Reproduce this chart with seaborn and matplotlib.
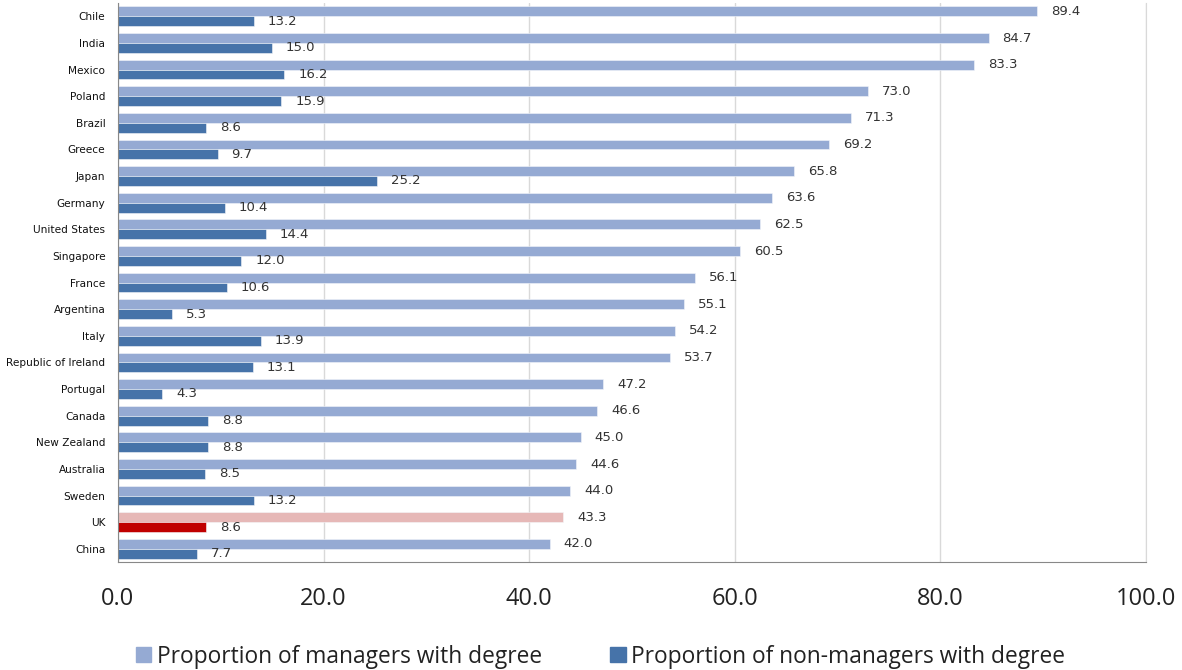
import matplotlib
matplotlib.use("Agg")
import matplotlib.pyplot as plt
import matplotlib.patches as mpatches
import seaborn as sns
import pandas as pd

countries = ["Chile", "India", "Mexico", "Poland", "Brazil", "Greece", "Japan",
             "Germany", "United States", "Singapore", "France", "Argentina",
             "Italy", "Republic of Ireland", "Portugal", "Canada", "New Zealand",
             "Australia", "Sweden", "UK", "China"]
managers = [89.4, 84.7, 83.3, 73.0, 71.3, 69.2, 65.8, 63.6, 62.5, 60.5, 56.1,
            55.1, 54.2, 53.7, 47.2, 46.6, 45.0, 44.6, 44.0, 43.3, 42.0]
non_managers = [13.2, 15.0, 16.2, 15.9, 8.6, 9.7, 25.2, 10.4, 14.4, 12.0, 10.6,
                5.3, 13.9, 13.1, 4.3, 8.8, 8.8, 8.5, 13.2, 8.6, 7.7]
series_names = ["Proportion of managers with degree",
                "Proportion of non-managers with degree"]
highlight = "UK"

colors = ["#95AAD3", "#4673A9"]
highlight_colors = ["#E6B8B7", "#C00000"]

df = pd.concat([
    pd.DataFrame({"country": countries, "value": managers, "series": series_names[0]}),
    pd.DataFrame({"country": countries, "value": non_managers, "series": series_names[1]}),
])

sns.set_style("white")
fig = plt.figure(figsize=(11.82, 6.70), dpi=100)
ax = fig.add_axes([0.0998, 0.161, 0.8697, 0.8345])

sns.barplot(data=df, y="country", x="value", hue="series", order=countries,
            hue_order=series_names, palette=colors, orient="h", width=0.74,
            saturation=1, ax=ax, legend=False)

# recolour the highlighted country and add value labels
hi = countries.index(highlight)
for s, container in enumerate(ax.containers):
    for i, bar in enumerate(container):
        if i == hi:
            bar.set_facecolor(highlight_colors[s])
        bar.set_edgecolor("#F4F6FA")
        bar.set_linewidth(0.4)
    vals = managers if s == 0 else non_managers
    ax.bar_label(container, labels=[f"{v:.1f}" for v in vals], padding=10,
                 fontsize=9.5, color="#333333", family="DejaVu Sans")

ax.set_xlim(0, 100)
ax.set_xticks([0, 20, 40, 60, 80, 100])
ax.set_xticklabels([f"{t:.1f}" for t in [0, 20, 40, 60, 80, 100]],
                   fontsize=17, family="Open Sans", color="#222222")
ax.tick_params(axis="x", length=0, pad=18)
ax.tick_params(axis="y", length=0, pad=9, labelsize=7.6)
for lab in ax.get_yticklabels():
    lab.set_color("#111111")
ax.set_xlabel("")
ax.set_ylabel("")
ax.grid(axis="x", color="#D9D9D9", linewidth=1)
ax.set_axisbelow(True)
ax.spines["top"].set_visible(False)
ax.spines["right"].set_color("#D9D9D9")
ax.spines["left"].set_color("#888888")
ax.spines["bottom"].set_color("#888888")

handles = [mpatches.Patch(color=c, label=n) for c, n in zip(colors, series_names)]
fig.legend(handles=handles, loc="center", bbox_to_anchor=(0.508, 0.02), ncol=2,
           frameon=False, prop={"family": "Open Sans", "size": 16.4},
           handlelength=0.68, handleheight=0.68, handletextpad=0.25,
           columnspacing=3.0, labelcolor="#222222")

fig.savefig("out.png", dpi=100)
